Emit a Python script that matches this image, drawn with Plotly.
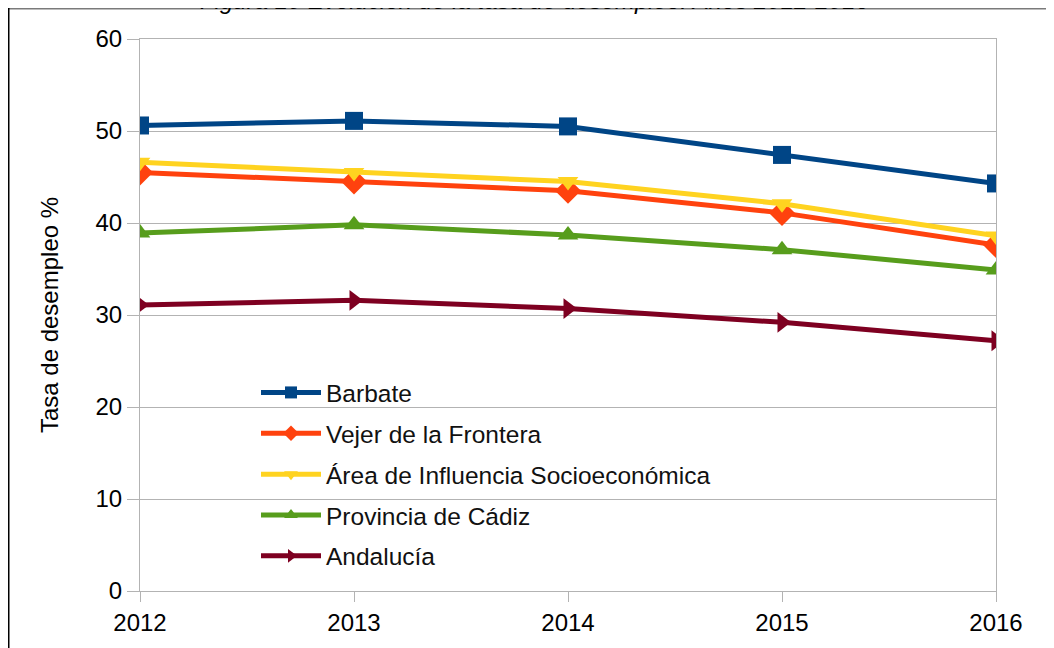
import plotly.graph_objects as go

years = [2012, 2013, 2014, 2015, 2016]
barbate = [50.6, 51.1, 50.5, 47.4, 44.3]
vejer = [45.5, 44.5, 43.5, 41.1, 37.6]
area = [46.6, 45.5, 44.5, 42.1, 38.6]
provincia = [38.9, 39.8, 38.7, 37.1, 34.9]
andalucia = [31.1, 31.6, 30.7, 29.2, 27.2]
y_ticks = [0, 10, 20, 30, 40, 50, 60]

series = [
    ("Barbate", barbate, "#004586", "square"),
    ("Vejer de la Frontera", vejer, "#ff420e", "diamond"),
    ("Área de Influencia Socioeconómica", area, "#ffd320", "triangle-down"),
    ("Provincia de Cádiz", provincia, "#579d1c", "triangle-up"),
    ("Andalucía", andalucia, "#7e0021", "triangle-right"),
]

# page has an 8px body margin; figure coordinates are screen - 8
W, H = 1054, 648
L, R, T, B = 132, 66, 31, 65
pw, ph = W - L - R, H - T - B

def px(x):
    return (x - L) / pw

def py(y):
    return (H - B - y) / ph

fig = go.Figure()
for i, (name, vals, color, sym) in enumerate(series):
    fig.add_trace(go.Scatter(
        x=years, y=vals, name=name, mode="lines+markers",
        line=dict(color=color, width=5),
        marker=dict(symbol=sym, size=18 if sym != "diamond" else 20, color=color),
        legendgroup=f"g{i}",
    ))

font = "Liberation Sans, Arial, sans-serif"
fig.update_layout(
    width=W, height=H,
    margin=dict(l=L, r=R, t=T, b=B),
    paper_bgcolor="white", plot_bgcolor="white",
    font=dict(family=font, size=24, color="black"),
    showlegend=True,
    legend=dict(
        x=px(248), y=py(362), xanchor="left", yanchor="top",
        bgcolor="rgba(0,0,0,0)", itemsizing="constant", itemwidth=60,
        tracegroupgap=6, traceorder="grouped",
        font=dict(family=font, size=24.5, color="#111"),
    ),
    xaxis=dict(
        range=[2012, 2016], tickvals=years, ticktext=[str(y) for y in years],
        showgrid=False, showline=True, linecolor="#b3b3b3", linewidth=1,
        mirror=True, ticks="outside", ticklen=10, tickcolor="#b3b3b3",
        zeroline=False, tickfont=dict(size=24),
    ),
    yaxis=dict(
        range=[0, 60], tickvals=y_ticks,
        showgrid=True, gridcolor="#b3b3b3", gridwidth=1,
        showline=True, linecolor="#b3b3b3", linewidth=1, mirror=True,
        ticks="outside", ticklen=12, tickcolor="#b3b3b3",
        zeroline=False, tickfont=dict(size=24),
        title=dict(text="Tasa de desempleo %", font=dict(size=24), standoff=30),
    ),
)

# frame lines
fig.add_shape(type="line", xref="paper", yref="paper",
              x0=px(0), x1=px(W + 5), y0=py(0.5), y1=py(0.5),
              line=dict(color="#7a7a7a", width=2))
fig.add_shape(type="line", xref="paper", yref="paper",
              x0=px(0.75), x1=px(0.75), y0=py(0), y1=py(H + 5),
              line=dict(color="black", width=1.5))

fig.add_annotation(
    text="<i>Figura 10 Evolución de la tasa de desempleo. Años 2012-2016</i>",
    xref="paper", yref="paper", x=px(527), y=py(-8),
    xanchor="center", yanchor="middle", showarrow=False,
    font=dict(family=font, size=24, color="black"),
)

fig.write_html("out.html")
